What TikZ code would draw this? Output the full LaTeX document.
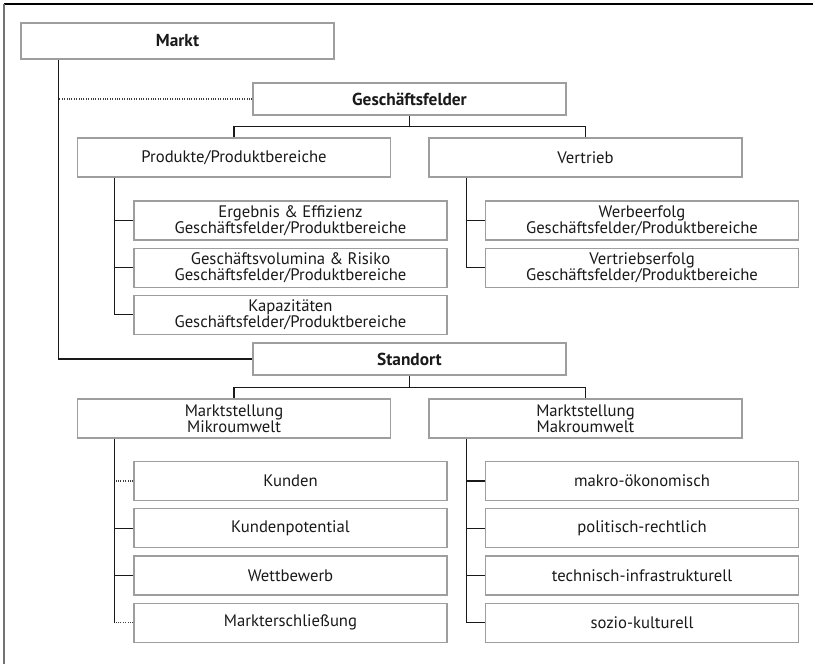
\documentclass[tikz,border=0pt]{standalone}
\usepackage{fontspec}
\setmainfont{PT Sans}
\usepackage{tikz}
\tikzset{
	feld/.style={draw=black!38, line width=0.9pt, align=center, inner sep=0pt,
		minimum width=234.75pt, minimum height=29.25pt,
		font=\fontsize{12.5}{12}\selectfont, text=black!90},
	kopf/.style={feld, minimum height=24pt, font=\fontsize{13}{12}\selectfont\bfseries},
	ast/.style={line width=0.8pt, black!90},
	punkt/.style={line width=0.8pt, black!75, densely dotted},
}
\begin{document}
\begin{tikzpicture}[x=0.75pt, y=-0.75pt]
			\useasboundingbox (0,0) rectangle (815,664);
			\draw[line width=1pt] (4,4) -- (813,4);
			\draw[line width=1pt, black!55] (4,4) -- (4,664);
			% obere Ebene
			\node[kopf, minimum height=27pt] (markt) at (177.5,41) {Markt};
			\node[kopf] (gf) at (409.5,99) {Geschäftsfelder};
			\node[kopf] (std) at (409.5,359) {Standort};
			\node[feld] (prod) at (234,157.5) {Produkte/Produktbereiche};
			\node[feld] (vert) at (585.5,157.5) {Vertrieb};
			\node[feld] (mikro) at (234,418.5) {Marktstellung\\Mikroumwelt};
			\node[feld] (makro) at (585.5,418.5) {Marktstellung\\Makroumwelt};
			% Unterpunkte
			\foreach \t [count=\i] in {{Ergebnis \& Effizienz\\Geschäftsfelder/Produktbereiche},
				{Geschäftsvolumina \& Risiko\\Geschäftsfelder/Produktbereiche},
				{Kapazitäten\\Geschäftsfelder/Produktbereiche}}
				\node[feld] (pb\i) at (290.5,{220.5+47.2*(\i-1)}) {\t};
			\foreach \t [count=\i] in {{Werbeerfolg\\Geschäftsfelder/Produktbereiche},
				{Vertriebserfolg\\Geschäftsfelder/Produktbereiche}}
				\node[feld] (vb\i) at (642,{220.5+47.2*(\i-1)}) {\t};
			\foreach \t [count=\i] in {Kunden, Kundenpotential, Wettbewerb, Markterschließung}
				\node[feld] (mi\i) at (290.5,{481+47.2*(\i-1)}) {\t};
			\foreach \t [count=\i] in {makro-ökonomisch, politisch-rechtlich, technisch-infrastrukturell, sozio-kulturell}
				\node[feld] (ma\i) at (642,{481+47.2*(\i-1)}) {\t};
			% Verbindungen
			\draw[ast] (markt.south west) ++(38,0) coordinate (ms) |- (std.west);
			\draw[punkt] (gf.west) -- (gf.west -| ms);
			\draw[ast] (gf.south) -- ++(0,11) coordinate (gfa);
			\draw[ast] (prod.north) |- (gfa) -| (vert.north);
			\draw[ast] (std.south) -- ++(0,12) coordinate (sta);
			\draw[ast] (mikro.north) |- (sta) -| (makro.north);
			\draw[ast] (prod.south west) ++(38,0) coordinate (ps) |- (pb3.west);
			\foreach \i in {1,2}
				\draw[ast] (pb\i.west) -- (pb\i.west -| ps);
			\draw[ast] (vert.south west) ++(38,0) coordinate (vs) |- (vb2.west);
			\draw[ast] (vb1.west) -- (vb1.west -| vs);
			\draw[ast] (mikro.south west) ++(38,0) coordinate (mis) -- (mis |- mi4.west);
			\draw[punkt] (mi1.west) -- (mi1.west -| mis);
			\draw[punkt] (mi4.west) -- (mi4.west -| mis);
			\foreach \i in {2,3}
				\draw[ast] (mi\i.west) -- (mi\i.west -| mis);
			\draw[ast] (makro.south west) ++(38,0) coordinate (mas) |- (ma4.west);
			\foreach \i in {1,2,3}
				\draw[ast] (ma\i.west) -- (ma\i.west -| mas);
		\end{tikzpicture}
\end{document}
